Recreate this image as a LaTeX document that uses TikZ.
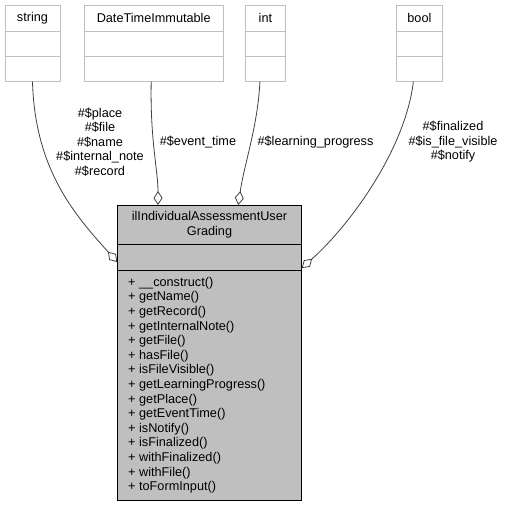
\documentclass[tikz,border=0pt]{standalone}
\usepackage{fontspec}
\setmainfont{Liberation Sans}
\usepackage{xcolor}
\usepackage{tikz}
\usetikzlibrary{arrows.meta,positioning}
\definecolor{grey75}{HTML}{BFBFBF}
\definecolor{grey25}{HTML}{404040}

\begin{document}
\begin{tikzpicture}[
  x=1pt, y=-1pt,
  font=\fontsize{12.7}{14.6}\selectfont,
  typebox/.style={draw=grey75, fill=white, line width=1pt, inner sep=0, outer sep=0, minimum width=#1, minimum height=26},
  mainbox/.style={draw=black, fill=grey75, line width=1pt, inner sep=0, outer sep=0, minimum width=184.4, align=center},
  member/.style={align=center, inner sep=0},
  agg/.style={draw=grey25, line width=0.8pt, {Diamond[open, length=14pt, width=9pt]}-}
]
  \useasboundingbox (0,0) rectangle (506,507);

  \node[typebox=55] (string) at (32.5,18) {string};
  \node[typebox=55, minimum height=25.7, below=0pt of string] (string2) {};
  \node[typebox=55, minimum height=25, below=0pt of string2] (string3) {};

  \node[typebox=139.3] (dt) at (153.7,18) {DateTimeImmutable};
  \node[typebox=139.3, minimum height=25.7, below=0pt of dt] (dt2) {};
  \node[typebox=139.3, minimum height=25, below=0pt of dt2] (dt3) {};

  \node[typebox=40.7] (int) at (265.4,18) {int};
  \node[typebox=40.7, minimum height=25.7, below=0pt of int] (int2) {};
  \node[typebox=40.7, minimum height=25, below=0pt of int2] (int3) {};

  \node[typebox=46.7] (bool) at (419.4,18) {bool};
  \node[typebox=46.7, minimum height=25.7, below=0pt of bool] (bool2) {};
  \node[typebox=46.7, minimum height=25, below=0pt of bool2] (bool3) {};

  \node[mainbox, minimum height=39.3] (title) at (209.5,224.65) {ilIndividualAssessmentUser\\Grading};
  \node[mainbox, minimum height=25.7, below=0pt of title] (attr) {};
  \node[mainbox, minimum height=230.7, below=0pt of attr] (methods) {};
  \node[align=left, inner sep=0, anchor=north west] (ops) at (128,276.8) {+ \_\_construct()\\+ getName()\\+ getRecord()\\+ getInternalNote()\\+ getFile()\\+ hasFile()\\+ isFileVisible()\\+ getLearningProgress()\\+ getPlace()\\+ getEventTime()\\+ isNotify()\\+ isFinalized()\\+ withFinalized()\\+ withFile()\\+ toFormInput()};

  \draw[agg] ([yshift=-5pt]attr.west) .. controls (75,215) and (35,170) .. (string3.south);
  \draw[agg] ([xshift=-51.5pt]title.north) .. controls (158,170) and (150,140) .. ([xshift=-2.5pt]dt3.south);
  \draw[agg] ([xshift=28.8pt]title.north) .. controls (244,165) and (258,125) .. ([xshift=-5.5pt]int3.south);
  \draw[agg] ([yshift=-11pt]attr.east) .. controls (350,225) and (405,150) .. ([xshift=-6pt]bool3.south);

  \node[member] (stringlbl) at (100,142) {\#\$place\\\#\$file\\\#\$name\\\#\$internal\_note\\\#\$record};
  \node[member] (dtlbl) at (198,142) {\#\$event\_time};
  \node[member] (intlbl) at (315.5,142) {\#\$learning\_progress};
  \node[member] (boollbl) at (453,142) {\#\$finalized\\\#\$is\_file\_visible\\\#\$notify};
\end{tikzpicture}
\end{document}
